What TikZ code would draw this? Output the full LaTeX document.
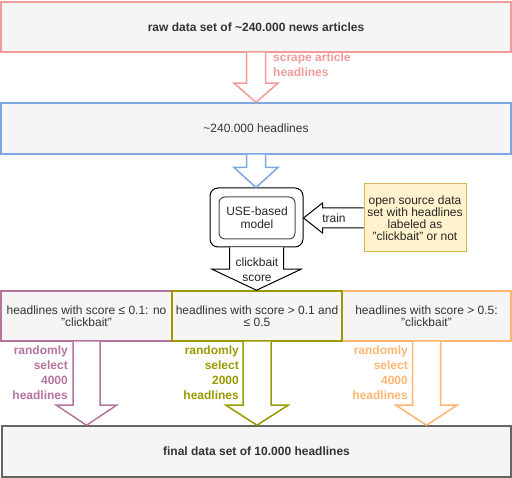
\documentclass[tikz,border=0pt]{standalone}
\usepackage{fontspec}
\setmainfont{Liberation Sans}
\usetikzlibrary{calc}
\definecolor{pinkc}{HTML}{F19C99}
\definecolor{bluec}{HTML}{7EA6E0}
\definecolor{purplec}{HTML}{B5739D}
\definecolor{olivec}{HTML}{999900}
\definecolor{orangec}{HTML}{FFB570}
\definecolor{grayc}{HTML}{666666}
\definecolor{yelfill}{HTML}{FFF2CC}
\definecolor{yelstroke}{HTML}{D6B656}
\definecolor{boxfill}{HTML}{F5F5F5}
\definecolor{txt}{HTML}{333333}
\newcommand\blkdown[6]{%
  \draw[#6] let \p1=(#1), \p2=(#2) in
    (\x1-#3pt,\y1) -- (\x1-#3pt,\y2+#5pt) -- (\x1-#4pt,\y2+#5pt) -- (\x1,\y2)
    -- (\x1+#4pt,\y2+#5pt) -- (\x1+#3pt,\y2+#5pt) -- (\x1+#3pt,\y1);}
\newcommand\blkleft[6]{%
  \draw[#6] let \p1=(#1), \p2=(#2) in
    (\x1,\y1+#3pt) -- (\x2+#5pt,\y1+#3pt) -- (\x2+#5pt,\y1+#4pt) -- (\x2,\y1)
    -- (\x2+#5pt,\y1-#4pt) -- (\x2+#5pt,\y1-#3pt) -- (\x1,\y1-#3pt);}
\tikzset{
  box/.style={draw, fill=boxfill, text=txt, align=center, inner sep=2pt,
    line width=1.5pt, font=\fontsize{12}{12.5}\selectfont},
  lbl/.style={font=\bfseries\fontsize{12}{15}\selectfont, inner sep=0pt},
  blk/.style={fill=white, line width=1.5pt, line join=miter},
}
\begin{document}
\begin{tikzpicture}[x=1pt,y=-1pt]
\useasboundingbox (0,0) rectangle (512,478);
% boxes
\node[box, draw=pinkc, minimum width=510pt, minimum height=50pt, font=\bfseries\fontsize{12}{12.5}\selectfont] (raw) at (256,27) {raw data set of \textasciitilde240.000 news articles};
\node[box, draw=bluec, minimum width=510pt, minimum height=51pt] (head) at (256,128.5) {\textasciitilde240.000 headlines};
\node[draw=black, fill=white, line width=1pt, rounded corners=8pt, minimum width=93pt, minimum height=59pt] (model) at (256.5,217.5) {};
\node[draw=black!70, fill=white, line width=1pt, rounded corners=6pt, minimum width=76pt, minimum height=42pt, align=center, font=\fontsize{12}{13}\selectfont, text=black!85] (inner) at (257,218) {USE-based\\model};
\node[draw=yelstroke, fill=yelfill, line width=1pt, minimum width=102pt, minimum height=68pt, align=center, inner sep=0pt, font=\fontsize{12}{12}\selectfont, text=black!85] (open) at (415,218) {open source data\\set with headlines\\labeled as\\"clickbait" or not};
\node[box, draw=purplec, minimum width=171pt, minimum height=50pt, text depth=0pt] (low) at (86.5,316) {headlines with score ≤ 0.1: no\\"clickbait"};
\node[box, draw=orangec, minimum width=169pt, minimum height=50pt] (high) at (426.5,316) {headlines with score > 0.5:\\"clickbait"};
\node[box, draw=olivec, minimum width=170pt, minimum height=50pt] (mid) at (257,316) {headlines with score > 0.1 and\\≤ 0.5};
\node[box, draw=grayc, minimum width=509pt, minimum height=51pt, font=\bfseries\fontsize{12}{12.5}\selectfont] (final) at (256.5,451.5) {final data set of 10.000 headlines};
% block arrows
\blkdown{raw.south}{head.north}{9.5}{22}{19}{blk, draw=pinkc}
\blkdown{head.south}{model.north}{9.5}{22}{20}{blk, draw=bluec}
\blkdown{model.south}{mid.north}{27}{44.5}{21}{blk, draw=black, line width=1pt}
\blkleft{open.west}{model.east}{10}{15}{19}{blk, draw=black, line width=1pt}
\blkdown{low.south}{final.north}{13.5}{30}{20}{blk, draw=purplec}
\blkdown{mid.south}{final.north}{14}{31}{20}{blk, draw=olivec}
\blkdown{high.south}{final.north}{14}{30.5}{20}{blk, draw=orangec}
% labels
\node[lbl, text=pinkc, anchor=north west, align=left] (scrape) at (273,53) {scrape article\\headlines};
\node[font=\fontsize{12}{15}\selectfont, text=black!85, align=center, inner sep=0pt] (score) at (257,269.5) {clickbait\\score};
\node[font=\fontsize{12}{12}\selectfont, text=black!85, inner sep=0pt] (train) at (334,218) {train};
\node[lbl, text=purplec, anchor=north east, align=right] (sel1) at (68,346) {randomly\\select\\4000\\headlines};
\node[lbl, text=olivec, anchor=north east, align=right] (sel2) at (239,346) {randomly\\select\\2000\\headlines};
\node[lbl, text=orangec, anchor=north east, align=right] (sel3) at (408,346) {randomly\\select\\4000\\headlines};
\end{tikzpicture}
\end{document}
